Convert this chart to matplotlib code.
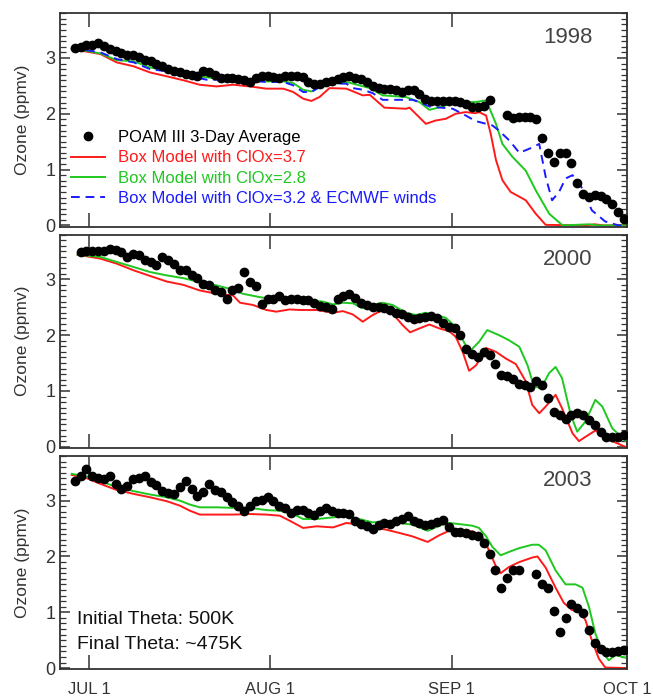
import numpy as np
import matplotlib
matplotlib.use('Agg')
import matplotlib.pyplot as plt
from matplotlib.ticker import MultipleLocator

plt.rcParams['font.family'] = ['Liberation Sans', 'DejaVu Sans']

# days since Jul 1
month_ticks = [0, 31, 62, 92]
month_labels = ['JUL 1', 'AUG 1', 'SEP 1', 'OCT 1']
years = ['1998', '2000', '2003']

# POAM III 3-day average, one value per day (nan = no data)
poam_start = {'1998': -2.5, '2000': -1.5, '2003': -2.5}
poam_1998 = [3.18, 3.20, 3.24, 3.24, 3.26, 3.22, 3.16, 3.13, 3.08, 3.06, 3.05, 3.01, 2.96, 2.94, 2.90,
             2.86, 2.80, 2.77, 2.74, 2.71, 2.70, 2.68, 2.76, 2.74, 2.70, 2.64, 2.64, 2.64, 2.63, 2.60,
             2.57, 2.64, 2.67, 2.67, 2.65, 2.64, 2.68, 2.68, 2.67, 2.65, 2.57, 2.54, 2.54, 2.57, 2.59,
             2.62, 2.65, 2.67, 2.64, 2.62, 2.57, 2.50, 2.46, 2.45, 2.44, 2.42, 2.39, 2.42, 2.42, 2.36,
             2.27, 2.23, 2.23, 2.23, 2.22, 2.23, 2.21, 2.17, 2.13, 2.13, 2.14, 2.24, np.nan, np.nan, 1.97,
             1.93, 1.94, 1.94, 1.95, 1.90, 1.57, 1.30, 1.14, 1.30, 1.30, 1.11, 0.76, 0.56, 0.51, 0.54,
             0.52, 0.48, 0.38, 0.24, 0.12]
poam_2000 = [3.49, 3.50, 3.51, 3.50, 3.50, 3.55, 3.52, 3.49, 3.40, 3.46, 3.43, 3.34, 3.31, 3.26, 3.40,
             3.34, 3.28, 3.16, 3.16, 3.08, 3.02, 2.92, 2.89, 2.80, 2.77, 2.65, 2.80, 2.85, 3.13, 2.96,
             2.88, 2.55, 2.65, 2.64, 2.70, 2.63, 2.65, 2.65, 2.63, 2.63, 2.58, 2.52, 2.50, 2.46, 2.65,
             2.70, 2.73, 2.67, 2.57, 2.54, 2.51, 2.51, 2.49, 2.45, 2.40, 2.37, 2.33, 2.28, 2.30, 2.33,
             2.35, 2.30, 2.21, 2.15, 2.12, 2.00, 1.75, 1.67, 1.61, 1.70, 1.65, 1.48, 1.29, 1.27, 1.21,
             1.12, 1.10, 1.07, 1.17, 1.11, 0.88, 0.62, 0.56, 0.49, 0.57, 0.60, 0.57, 0.48, 0.39, 0.26,
             0.18, 0.18, 0.18, 0.21]
poam_2003 = [3.35, 3.45, 3.57, 3.45, 3.40, 3.39, 3.45, 3.30, 3.21, 3.27, 3.39, 3.40, 3.45, 3.33, 3.28,
             3.17, 3.13, 3.12, 3.24, 3.35, 3.21, 3.09, 3.15, 3.29, 3.19, 3.15, 3.07, 2.97, 2.91, 2.82,
             2.91, 2.99, 3.01, 3.07, 3.00, 2.91, 2.87, 2.77, 2.83, 2.83, 2.77, 2.75, 2.81, 2.87, 2.82,
             2.77, 2.77, 2.76, 2.64, 2.58, 2.55, 2.49, 2.57, 2.60, 2.58, 2.64, 2.67, 2.73, 2.63, 2.60,
             2.57, 2.58, 2.61, 2.65, 2.52, 2.43, 2.43, 2.42, 2.39, 2.36, 2.24, 2.05, 1.76, 1.44, 1.62,
             1.76, 1.76, np.nan, np.nan, 1.68, 1.51, 1.44, 1.02, 0.65, 0.89, 1.14, 1.08, 0.99, 0.69,
             0.45, 0.35, 0.29, 0.29, 0.30, 0.33]
poam = {'1998': poam_1998, '2000': poam_2000, '2003': poam_2003}

# box model, ClOx=3.7
red_x = {
    '1998': [-3, 1.9, 4.7, 7.6, 10.4, 13.3, 16.1, 18.9, 21.8, 24.6, 27.5, 30.3, 33.2, 34.9, 36.6, 38.0,
             39.4, 41.1, 44.0, 46.8, 48.0, 50.5, 54.2, 54.8, 57.6, 59.3, 61.0, 62.7, 64.4, 66.1, 66.7,
             67.9, 68.7, 69.6, 70.7, 72.1, 74.7, 76.4, 78.1, 85.0, 86.5, 88.0, 92],
    '2000': [-2, 1.9, 4.7, 7.6, 10.4, 13.25, 16.1, 18.9, 21.8, 24.6, 25.8, 28.0, 30.3, 32.0, 34.3, 36.0,
             38.9, 41.7, 43.4, 45.1, 46.8, 48.5, 50.2, 51.9, 53.6, 54.9, 56.5, 58.2, 59.9, 61.6, 62.7,
             63.9, 65.0, 66.2, 67.9, 69.6, 71.3, 73.0, 74.7, 75.8, 77.0, 78.1, 79.8, 80.9, 82.7, 83.8,
             84.8, 86.6, 87.8, 89.5, 91.7, 92],
    '2003': [-3, -0.4, 1.9, 4.7, 7.6, 10.4, 13.25, 15.5, 17.2, 18.9, 21.8, 24.6, 27.5, 30.3, 32.6, 34.3,
             36.6, 38.9, 41.7, 44.0, 46.2, 48.5, 50.8, 53.1, 55.3, 57.9, 59.9, 61.6, 63.3, 65.6, 67.3,
             68.4, 69.6, 70.4, 71.8, 73.6, 75.8, 76.7, 78.1, 79.8, 81.2, 82.6, 84.0, 84.9, 86.0, 87.2,
             88.3, 92],
}
red_y = {
    '1998': [3.16, 3.07, 2.92, 2.85, 2.74, 2.67, 2.60, 2.52, 2.49, 2.52, 2.49, 2.45, 2.45, 2.39, 2.27, 2.23,
             2.30, 2.46, 2.45, 2.33, 2.34, 2.11, 2.09, 2.11, 1.82, 1.88, 1.91, 2.00, 2.03, 2.01, 2.03,
             1.97, 1.64, 1.17, 0.81, 0.60, 0.45, 0.21, 0.01, 0.0, 0.02, 0.0, 0.0],
    '2000': [3.44, 3.37, 3.28, 3.16, 3.06, 2.96, 2.90, 2.80, 2.74, 2.71, 2.58, 2.54, 2.45, 2.42, 2.46, 2.45,
             2.45, 2.40, 2.43, 2.37, 2.24, 2.36, 2.45, 2.39, 2.18, 2.05, 2.12, 2.19, 2.12, 2.07, 1.97,
             1.70, 1.36, 1.46, 1.77, 1.70, 1.58, 1.48, 1.17, 0.75, 0.60, 0.72, 0.93, 0.69, 0.24, 0.10,
             0.17, 0.29, 0.24, 0.10, 0.0, 0.0],
    '2003': [3.46, 3.40, 3.30, 3.19, 3.12, 3.06, 2.99, 2.91, 2.82, 2.75, 2.75, 2.75, 2.76, 2.75, 2.73, 2.64,
             2.51, 2.54, 2.52, 2.60, 2.57, 2.52, 2.48, 2.42, 2.36, 2.26, 2.38, 2.46, 2.46, 2.45, 2.35,
             2.11, 1.82, 1.70, 1.81, 1.90, 1.98, 2.00, 1.80, 1.44, 1.17, 1.04, 1.01, 0.86, 0.50, 0.17,
             0.01, 0.0],
}

# box model, ClOx=2.8
green_x = {
    '1998': [-3, 1.9, 4.7, 7.6, 10.4, 13.3, 16.1, 18.9, 21.8, 24.6, 27.5, 30.3, 33.2, 34.9, 36.6, 38.0,
             39.4, 41.1, 44.0, 46.2, 48.0, 50.2, 54.2, 56.5, 58.2, 60.5, 62.2, 64.4, 66.1, 67.9, 68.4,
             69.6, 70.7, 72.4, 74.7, 76.4, 78.7, 81.0, 85.5, 87.2, 92],
    '2000': [-2, 1.9, 4.7, 7.6, 10.4, 13.25, 16.1, 18.9, 21.8, 24.0, 26.3, 29.2, 31.5, 34.3, 37.1, 40.0,
             41.7, 43.4, 45.1, 46.8, 48.5, 50.2, 51.9, 54.2, 55.9, 57.6, 59.3, 61.0, 62.7, 64.4, 65.3,
             66.7, 68.1, 70.1, 71.8, 73.6, 75.0, 76.1, 77.3, 78.7, 79.8, 80.9, 82.4, 83.5, 84.9, 86.6,
             87.8, 89.5, 91.7, 92],
    '2003': [-3, -0.4, 1.9, 4.7, 7.6, 10.4, 13.25, 15.5, 17.2, 18.9, 21.8, 24.6, 27.5, 30.3, 32.6, 34.9,
             36.6, 38.9, 41.7, 44.0, 46.2, 48.5, 50.8, 53.1, 55.3, 57.9, 59.9, 61.6, 63.3, 65.6, 66.7,
             67.9, 69.0, 70.4, 71.8, 73.6, 75.8, 76.9, 78.1, 79.8, 81.5, 83.2, 84.4, 85.5, 86.6, 87.8,
             88.9, 90.0, 91.7, 92],
}
green_y = {
    '1998': [3.18, 3.08, 2.96, 2.94, 2.83, 2.77, 2.70, 2.67, 2.63, 2.63, 2.61, 2.58, 2.58, 2.55, 2.43, 2.40,
             2.47, 2.56, 2.57, 2.51, 2.46, 2.33, 2.30, 2.21, 2.07, 2.13, 2.21, 2.21, 2.21, 2.24, 2.12,
             1.82, 1.46, 1.23, 0.98, 0.63, 0.21, 0.0, 0.02, 0.0, 0.0],
    '2000': [3.44, 3.40, 3.31, 3.22, 3.13, 3.07, 3.02, 2.95, 2.89, 2.83, 2.74, 2.68, 2.64, 2.64, 2.63, 2.60,
             2.55, 2.58, 2.57, 2.48, 2.54, 2.58, 2.54, 2.40, 2.36, 2.40, 2.36, 2.31, 2.15, 1.82, 1.73,
             1.88, 2.09, 2.00, 1.91, 1.79, 1.46, 1.08, 1.05, 1.32, 1.43, 1.23, 0.57, 0.27, 0.45, 0.84,
             0.72, 0.33, 0.11, 0.08],
    '2003': [3.48, 3.43, 3.35, 3.24, 3.17, 3.11, 3.06, 3.00, 2.93, 2.88, 2.88, 2.87, 2.87, 2.83, 2.82, 2.76,
             2.67, 2.67, 2.70, 2.73, 2.67, 2.61, 2.63, 2.60, 2.57, 2.46, 2.55, 2.60, 2.58, 2.55, 2.51,
             2.36, 2.17, 2.02, 2.08, 2.15, 2.21, 2.21, 2.11, 1.75, 1.50, 1.50, 1.44, 1.10, 0.62, 0.29,
             0.14, 0.23, 0.19, 0.18],
}

# box model, ClOx=3.2 & ECMWF winds (1998 only)
blue_x_1998 = [-3, 1.9, 4.7, 7.6, 10.4, 13.3, 16.1, 20.1, 24.6, 30.3, 33.2, 34.9, 36.6, 38.0, 39.4, 41.7,
               44.0, 45.1, 46.8, 48.5, 50.2, 55.3, 56.5, 58.2, 62.2, 64.4, 66.1, 69.0, 70.1, 71.9, 73.6,
               75.9, 77.0, 78.1, 79.2, 80.4, 81.5, 82.7, 84.4, 86.0, 88.3, 90.6, 92]
blue_y_1998 = [3.18, 3.10, 2.98, 2.92, 2.80, 2.76, 2.70, 2.61, 2.61, 2.57, 2.57, 2.51, 2.39, 2.39, 2.48, 2.54,
               2.54, 2.46, 2.43, 2.37, 2.25, 2.25, 2.21, 2.13, 2.09, 1.97, 1.87, 1.79, 1.70, 1.52, 1.30,
               1.40, 1.46, 0.87, 0.45, 0.60, 0.84, 0.90, 0.66, 0.27, 0.07, 0.0, 0.0]

RED = '#ff1a1a'
GREEN = '#1ec81e'
BLUE = '#1a1aff'
AXC = '#333333'

fig, axes = plt.subplots(3, 1, figsize=(6.53, 7.0), dpi=100)
fig.subplots_adjust(left=0.092, right=0.960, top=0.981, bottom=0.044, hspace=0.038)

for ax, yr in zip(axes, years):
    vals = np.array(poam[yr], dtype=float)
    days = poam_start[yr] + np.arange(len(vals))
    ax.plot(red_x[yr], red_y[yr], color=RED, lw=1.4, zorder=2,
            label='Box Model with ClOx=3.7')
    ax.plot(green_x[yr], green_y[yr], color=GREEN, lw=1.4, zorder=2,
            label='Box Model with ClOx=2.8')
    if yr == '1998':
        ax.plot(blue_x_1998, blue_y_1998, color=BLUE, lw=1.4, dashes=(4.5, 3), zorder=2,
                label='Box Model with ClOx=3.2 & ECMWF winds')
    ax.plot(days, vals, 'o', color='black', ms=6, zorder=3, label='POAM III 3-Day Average')

    ax.set_xlim(-5, 92)
    ax.set_ylim(-0.02, 3.8)
    ax.set_xticks(month_ticks)
    ax.set_yticks([0, 1, 2, 3])
    ax.yaxis.set_minor_locator(MultipleLocator(0.1))
    ax.tick_params(axis='x', which='major', direction='in', length=10, width=1.1,
                   top=True, bottom=True, colors=AXC, labelsize=12, pad=9)
    ax.tick_params(axis='y', which='major', direction='in', length=7, width=1.1,
                   left=True, right=True, colors=AXC, labelsize=13)
    ax.tick_params(axis='y', which='minor', direction='in', length=4, width=0.9,
                   left=True, right=True, colors=AXC)
    for sp in ax.spines.values():
        sp.set_color(AXC)
        sp.set_linewidth(1.3)
    ax.set_ylabel('Ozone (ppmv)', fontsize=12.5, color=AXC, labelpad=11)
    ax.text(0.94, 0.885, yr, transform=ax.transAxes, ha='right', va='center',
            fontsize=16, color='#444444')
    if ax is axes[-1]:
        ax.set_xticklabels(month_labels)
    else:
        ax.set_xticklabels([])

# legend in the top panel
h, l = axes[0].get_legend_handles_labels()
order = [3, 0, 1, 2]
axes[0].legend([h[i] for i in order], [l[i] for i in order], loc='upper left',
               bbox_to_anchor=(0.02, 0.452), frameon=False, fontsize=12,
               handlelength=2.0, handletextpad=0.8, labelspacing=0.32,
               borderpad=0, borderaxespad=0, labelcolor='linecolor')

axes[2].text(0.03, 0.235, 'Initial Theta: 500K', transform=axes[2].transAxes,
             fontsize=14, color='#111111', va='center')
axes[2].text(0.03, 0.115, 'Final Theta: ~475K', transform=axes[2].transAxes,
             fontsize=14, color='#111111', va='center')

plt.savefig('out.png', dpi=100)
plt.close()
